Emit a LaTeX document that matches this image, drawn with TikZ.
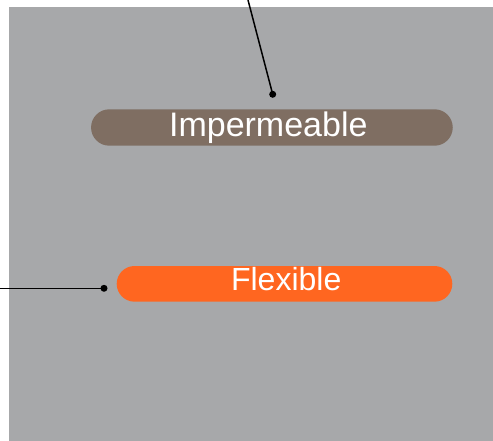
\documentclass[tikz,border=0pt]{standalone}
\usepackage{fontspec}
\setmainfont{Liberation Sans}
\definecolor{bggray}{HTML}{A7A8AA}
\definecolor{pillbrown}{HTML}{7F6E62}
\definecolor{pillorange}{HTML}{FF6620}
\begin{document}
\begin{tikzpicture}[x=1pt,y=-1pt,
  pill/.style={rectangle,inner sep=0pt,draw=none},
  pilltext/.style={inner sep=0pt,anchor=base,text=white},
  dotnode/.style={circle,fill=black,inner sep=0pt,minimum size=7pt},
  connector/.style={draw=black,line width=1.5pt}]
\useasboundingbox (0,0) rectangle (493,441);
\fill[bggray] (9,7) rectangle (493,441);
% pills
\node[pill,fill=pillbrown,minimum width=361.7pt,minimum height=36.4pt,rounded corners=18.2pt] (imp) at (271.9,127.5) {};
\node[pill,fill=pillorange,minimum width=335.6pt,minimum height=35.7pt,rounded corners=17.85pt] (flex) at (284.5,283.85) {};
\node[pilltext,font=\fontsize{34}{40}\selectfont] (impt) at (268.3,136.7) {Impermeable};
\node[pilltext,font=\fontsize{32}{38}\selectfont] (flext) at (286.2,290) {Flexible};
% connectors
\coordinate (topend) at (248,0);
\coordinate (leftend) at (0,288.3);
\node[dotnode] (d1) at (272.7,94.3) {};
\node[dotnode] (d2) at (104,288.3) {};
\draw[connector] (topend) -- (d1.center);
\draw[connector] (leftend) -- (d2.center);
\end{tikzpicture}
\end{document}
